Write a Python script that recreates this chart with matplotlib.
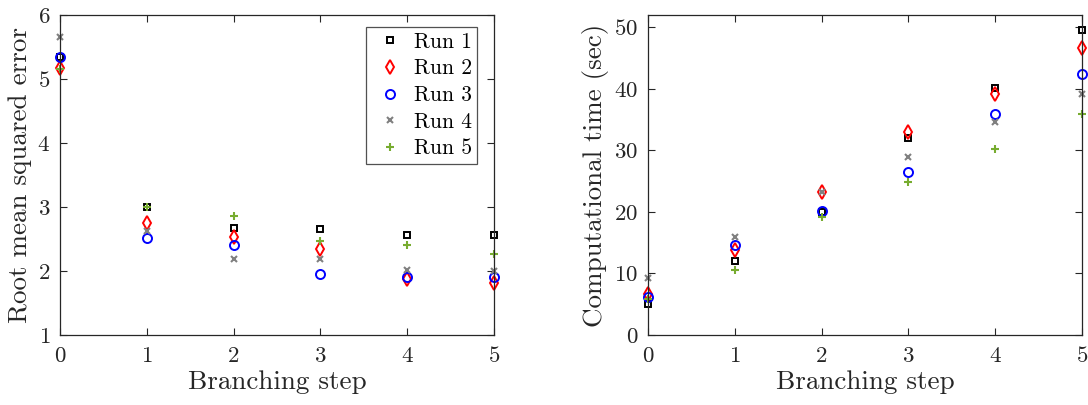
import matplotlib
matplotlib.use("Agg")
import matplotlib.pyplot as plt

plt.rcParams['font.family'] = ['cmr10', 'DejaVu Serif']
plt.rcParams['mathtext.fontset'] = 'cm'
plt.rcParams['axes.formatter.use_mathtext'] = True

steps = [0, 1, 2, 3, 4, 5]
run_labels = ["Run 1", "Run 2", "Run 3", "Run 4", "Run 5"]

rmse_run1 = [5.34, 3.00, 2.67, 2.65, 2.57, 2.56]
rmse_run2 = [5.17, 2.75, 2.53, 2.35, 1.87, 1.81]
rmse_run3 = [5.34, 2.52, 2.40, 1.96, 1.91, 1.91]
rmse_run4 = [5.65, 2.63, 2.19, 2.19, 2.02, 2.00]
rmse_run5 = [5.15, 3.00, 2.86, 2.47, 2.40, 2.27]

time_run1 = [5.0, 12.0, 20.0, 32.0, 40.2, 49.6]
time_run2 = [6.6, 13.8, 23.2, 33.0, 39.2, 46.7]
time_run3 = [6.1, 14.6, 20.2, 26.5, 35.9, 42.4]
time_run4 = [9.2, 15.9, 23.2, 29.0, 34.6, 39.1]
time_run5 = [5.8, 10.6, 19.1, 24.9, 30.2, 35.9]

styles = [
    dict(marker='s', color='black', ms=5.0, mfc='none', mew=1.4),
    dict(marker='d', color='red', ms=7.0, mfc='none', mew=1.4),
    dict(marker='o', color='blue', ms=6.5, mfc='none', mew=1.4),
    dict(marker='x', color='#808080', ms=4.0, mew=1.5),
    dict(marker='+', color='#77ac30', ms=5.5, mew=1.5),
]

fig = plt.figure(figsize=(10.88, 4.05), dpi=100)
ax1 = fig.add_axes([0.0551, 0.1728, 0.3989, 0.790])
ax2 = fig.add_axes([0.5956, 0.1728, 0.3989, 0.790])

rmse = [rmse_run1, rmse_run2, rmse_run3, rmse_run4, rmse_run5]
times = [time_run1, time_run2, time_run3, time_run4, time_run5]

for vals, st, lab in zip(rmse, styles, run_labels):
    ax1.plot(steps, vals, linestyle='none', label=lab, clip_on=False, **st)
for vals, st, lab in zip(times, styles, run_labels):
    ax2.plot(steps, vals, linestyle='none', label=lab, clip_on=False, **st)

ax1.set_xlim(0, 5)
ax1.set_ylim(1, 6)
ax1.set_yticks([1, 2, 3, 4, 5, 6])
ax2.set_xlim(0, 5)
ax2.set_ylim(0, 52)
ax2.set_yticks([0, 10, 20, 30, 40, 50])

for ax in (ax1, ax2):
    ax.set_xticks(steps)
    ax.tick_params(direction='in', top=True, right=True, length=5, width=0.8,
                   labelsize=16.5, colors='#262626', labelcolor='#262626')
    ax.tick_params(axis='x', pad=8)
    ax.tick_params(axis='y', pad=7)
    for sp in ax.spines.values():
        sp.set_color('#262626')
        sp.set_linewidth(0.9)
    ax.set_xlabel('Branching step', fontsize=19.5, color='#262626', labelpad=3)

ax1.set_ylabel('Root mean squared error', fontsize=19.5, color='#262626', labelpad=4)
ax2.set_ylabel('Computational time (sec)', fontsize=19.5, color='#262626', labelpad=4)

leg = ax1.legend(loc='upper right', bbox_to_anchor=(0.962, 0.963), fontsize=15.5,
                 frameon=True, fancybox=False, edgecolor='#262626',
                 handlelength=1.8, handletextpad=0.2, labelspacing=0.33,
                 borderpad=0.25, borderaxespad=0.0)
leg.get_frame().set_linewidth(0.9)

fig.savefig('out.png', dpi=100)
